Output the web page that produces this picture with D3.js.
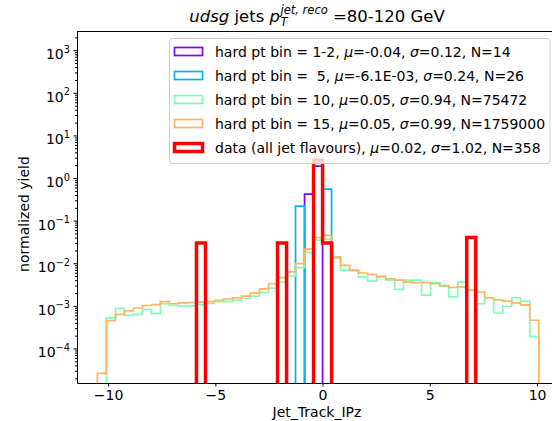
<!DOCTYPE html>
<html>
<head>
<meta charset="utf-8">
<script src="https://cdn.jsdelivr.net/npm/d3@7"></script>
<style>
html, body { margin: 0; padding: 0; background: #fff; overflow: hidden; }
svg { display: block; overflow: hidden; }
text { font-family: "DejaVu Sans", sans-serif; fill: #000; }
.axis path, .axis line { stroke: #000; stroke-width: 1; }
</style>
</head>
<body>
<div id="chart"></div>
<script>
// histogram bin edges (50 bins)
const binEdges = [-10.5, -10.08, -9.66, -9.24, -8.82, -8.4, -7.98, -7.56, -7.14, -6.72,
  -6.3, -5.88, -5.46, -5.04, -4.62, -4.2, -3.78, -3.36, -2.94, -2.52,
  -2.1, -1.68, -1.26, -0.84, -0.42, 0, 0.42, 0.84, 1.26, 1.68,
  2.1, 2.52, 2.94, 3.36, 3.78, 4.2, 4.62, 5.04, 5.46, 5.88,
  6.3, 6.72, 7.14, 7.56, 7.98, 8.4, 8.82, 9.24, 9.66, 10.08, 10.5];

const bin12 = [0,0,0,0,0,0,0,0,0,0, 0,0,0,0,0,0,0,0,0,0,
  0,0,0,0.42,1.9,0,0,0,0,0, 0,0,0,0,0,0,0,0,0,0, 0,0,0,0,0,0,0,0,0,0];

const bin5 = [0,0,0,0,0,0,0,0,0,0, 0,0,0,0,0,0,0,0,0,0,
  0,0,0.22,0,2.25,0.55,0,0,0,0, 0,0,0,0,0,0,0,0,0,0, 0,0,0,0,0,0,0,0,0,0];

const bin10 = [0, 5.2e-4, 8.7e-4, 6.0e-4, 6.3e-4, 8.3e-4, 6.6e-4, 1.12e-3, 1.02e-3, 1.0e-3,
  1.0e-3, 1.07e-3, 1.15e-3, 1.26e-3, 1.26e-3, 1.38e-3, 1.51e-3, 1.70e-3, 2.04e-3, 2.6e-3,
  3.6e-3, 5.0e-3, 7.9e-3, 0.0178, 0.035, 0.037, 0.0132, 6.9e-3, 6.6e-3, 4.8e-3,
  3.8e-3, 4.8e-3, 4.0e-3, 2.45e-3, 4.0e-3, 4.0e-3, 1.78e-3, 3.5e-3, 2.95e-3, 1.62e-3,
  3.6e-3, 2.4e-3, 1.12e-3, 1.55e-3, 6.8e-4, 9.8e-4, 1.55e-3, 1.29e-3, 1.9e-4, 0];

const bin15 = [2.6e-5, 4.5e-4, 6.3e-4, 7.6e-4, 8.9e-4, 1.02e-3, 1.07e-3, 1.26e-3, 1.12e-3, 1.17e-3,
  1.20e-3, 1.23e-3, 1.26e-3, 1.35e-3, 1.45e-3, 1.55e-3, 1.70e-3, 2.0e-3, 2.5e-3, 3.3e-3,
  4.6e-3, 6.3e-3, 9.8e-3, 0.0214, 0.040, 0.045, 0.0141, 8.9e-3, 6.9e-3, 5.9e-3,
  5.4e-3, 4.9e-3, 4.3e-3, 4.0e-3, 3.6e-3, 3.5e-3, 3.5e-3, 3.3e-3, 3.0e-3, 2.7e-3,
  2.8e-3, 2.3e-3, 2.1e-3, 1.55e-3, 1.38e-3, 1.29e-3, 1.17e-3, 1.05e-3, 4.6e-4, 0];

const dataAll = [0,0,0,0,0,0,0,0,0,0, 0,0.03,0,0,0,0,0,0,0,0,
  0.03,0,0,0,2.65,0.03,0,0,0,0, 0,0,0,0,0,0,0,0,0,0, 0,0.04,0,0,0,0,0,0,0,0];

const seriesNames = ["bin12", "bin5", "bin10", "bin15", "data"];
const seriesLabels = [
  ["hard pt bin = 1-2, ", "μ", "=-0.04, ", "σ", "=0.12, N=14"],
  ["hard pt bin =  5, ", "μ", "=-6.1E-03, ", "σ", "=0.24, N=26"],
  ["hard pt bin = 10, ", "μ", "=0.05, ", "σ", "=0.94, N=75472"],
  ["hard pt bin = 15, ", "μ", "=0.05, ", "σ", "=0.99, N=1759000"],
  ["data (all jet flavours), ", "μ", "=0.02, ", "σ", "=1.02, N=358"]
];
const seriesColors = ["#8000ff", "#00b4eb", "#80ffb4", "#ffb462", "#ff0000"];
const seriesWidths = [1.7, 1.7, 1.7, 1.7, 3.5];

const xTickValues = [-10, -5, 0, 5, 10];
const yTickValues = [1e-4, 1e-3, 1e-2, 1e-1, 1e0, 1e1, 1e2, 1e3];
const yTickExps = ["−4", "−3", "−2", "−1", "0", "1", "2", "3"];

let W = 552, H = 421;
let margin = {top: 31, right: -5, bottom: 38, left: 77};
let width = W - margin.left - margin.right;
let height = H - margin.top - margin.bottom;

let svg = d3.select("#chart").append("svg")
    .attr("width", W)
    .attr("height", H);

let x = d3.scaleLinear()
    .domain([-11.45, 10.93])
    .range([0, width]);
let y = d3.scaleLog()
    .domain([Math.pow(10, -4.81), Math.pow(10, 3.45)])
    .range([height, 0]);

svg.append("defs").append("clipPath")
    .attr("id", "plot-clip")
    .append("rect")
    .attr("width", width)
    .attr("height", height);

let g = svg.append("g")
    .attr("transform", "translate(" + margin.left + "," + margin.top + ")");

// step outline of one histogram; empty bins drop just below the axis
function stepPoints(vals) {
    let floor = y.domain()[0] / 2;
    let pts = [];
    function add(px, py) {
        let last = pts[pts.length - 1];
        if (!last || last[0] !== px || last[1] !== py) pts.push([px, py]);
    }
    add(binEdges[0], floor);
    vals.forEach(function(v, i) {
        let yy = v > 0 ? v : floor;
        add(binEdges[i], yy);
        add(binEdges[i + 1], yy);
    });
    add(binEdges[binEdges.length - 1], floor);
    return pts;
}

let line = d3.line()
    .x(function(d) { return x(d[0]); })
    .y(function(d) { return y(d[1]); });

let allSeries = [bin12, bin5, bin10, bin15, dataAll];

g.append("g")
    .attr("clip-path", "url(#plot-clip)")
    .selectAll("path")
    .data(allSeries)
    .enter().append("path")
    .attr("d", function(d) { return line(stepPoints(d)); })
    .attr("fill", "none")
    .attr("stroke", function(d, i) { return seriesColors[i]; })
    .attr("stroke-width", function(d, i) { return seriesWidths[i]; })
    .attr("stroke-linejoin", "miter");

// x axis
let xAxis = g.append("g")
    .attr("class", "axis")
    .attr("transform", "translate(0," + height + ")")
    .call(d3.axisBottom(x)
        .tickValues(xTickValues)
        .tickSizeInner(3.5)
        .tickSizeOuter(0)
        .tickPadding(3.5)
        .tickFormat(function(d) { return d < 0 ? "−" + Math.abs(d) : d; }));
xAxis.selectAll("text").attr("font-size", 14).attr("font-family", null);

// y axis, major and minor ticks
let minorTicks = [];
for (let e = -5; e <= 3; e++) {
    for (let m = 2; m <= 9; m++) {
        let v = m * Math.pow(10, e);
        if (v > y.domain()[0] && v < y.domain()[1]) minorTicks.push(v);
    }
}
g.append("g")
    .attr("class", "axis")
    .call(d3.axisLeft(y).tickValues(minorTicks).tickSizeInner(2).tickSizeOuter(0).tickFormat(""))
    .select(".domain").remove();

let yAxis = g.append("g")
    .attr("class", "axis")
    .call(d3.axisLeft(y).tickValues(yTickValues).tickSizeInner(3.5).tickSizeOuter(0).tickFormat(""));

yTickValues.forEach(function(v, i) {
    let t = g.append("text")
        .attr("x", -7)
        .attr("y", y(v) + 9)
        .attr("text-anchor", "end")
        .attr("font-size", 14);
    t.append("tspan").text("10");
    t.append("tspan").attr("font-size", 9.8).attr("dy", -6.5).text(yTickExps[i]);
});

// top spine
g.append("line").attr("x1", 0).attr("x2", width).attr("y1", 0.5).attr("y2", 0.5)
    .attr("stroke", "#000");

// axis labels
svg.append("text")
    .attr("x", margin.left + width / 2)
    .attr("y", 416.5)
    .attr("text-anchor", "middle")
    .attr("font-size", 14)
    .text("Jet_Track_IPz");

svg.append("text")
    .attr("transform", "translate(28.5," + (margin.top + height / 2 + 7) + ") rotate(-90)")
    .attr("text-anchor", "middle")
    .attr("font-size", 14)
    .text("normalized yield");

// title: udsg jets p_T^{jet, reco} =80-120 GeV
let title = svg.append("g");
let tx = 0;
function piece(txt, size, italic, dy) {
    let el = title.append("text")
        .attr("x", tx)
        .attr("y", 22 + dy)
        .attr("font-size", size)
        .attr("font-style", italic ? "italic" : "normal")
        .style("white-space", "pre")
        .text(txt);
    return el;
}
let p1 = piece("udsg", 16.5, true, 0); tx += p1.node().getComputedTextLength();
let p2 = piece(" jets ", 16.5, false, 0); tx += p2.node().getComputedTextLength();
let p3 = piece("p", 16.5, true, 0); tx += p3.node().getComputedTextLength() + 0.5;
let p4 = piece("T", 11.5, true, 4); let wSub = p4.node().getComputedTextLength();
let p5 = piece("jet, reco", 11.5, true, -8); let wSup = p5.node().getComputedTextLength();
tx += Math.max(wSub, wSup);
let p6 = piece(" =80-120 GeV", 16.5, false, 0); tx += p6.node().getComputedTextLength();
title.attr("transform", "translate(" + (margin.left + width / 2 - tx / 2) + ",0)");

// legend
let legend = svg.append("g");
legend.append("rect")
    .attr("x", 169.5)
    .attr("y", 38.5)
    .attr("width", 380.5)
    .attr("height", 125)
    .attr("rx", 3)
    .attr("fill", "#fff")
    .attr("fill-opacity", 0.8)
    .attr("stroke", "#cccccc");

let rows = legend.selectAll("g.row")
    .data(seriesNames)
    .enter().append("g")
    .attr("class", "row")
    .attr("transform", function(d, i) { return "translate(0," + (51.5 + i * 24) + ")"; });

rows.append("rect")
    .attr("x", 174.5)
    .attr("y", -4)
    .attr("width", 28)
    .attr("height", 8)
    .attr("fill", "none")
    .attr("stroke", function(d, i) { return seriesColors[i]; })
    .attr("stroke-width", function(d, i) { return seriesWidths[i]; });

rows.append("text")
    .attr("x", 215)
    .attr("y", 5)
    .attr("font-size", 14)
    .style("white-space", "pre")
    .each(function(d, i) {
        let t = d3.select(this);
        seriesLabels[i].forEach(function(part, j) {
            t.append("tspan")
                .attr("font-style", (j === 1 || j === 3) ? "italic" : "normal")
                .text(part);
        });
    });
</script>
</body>
</html>
